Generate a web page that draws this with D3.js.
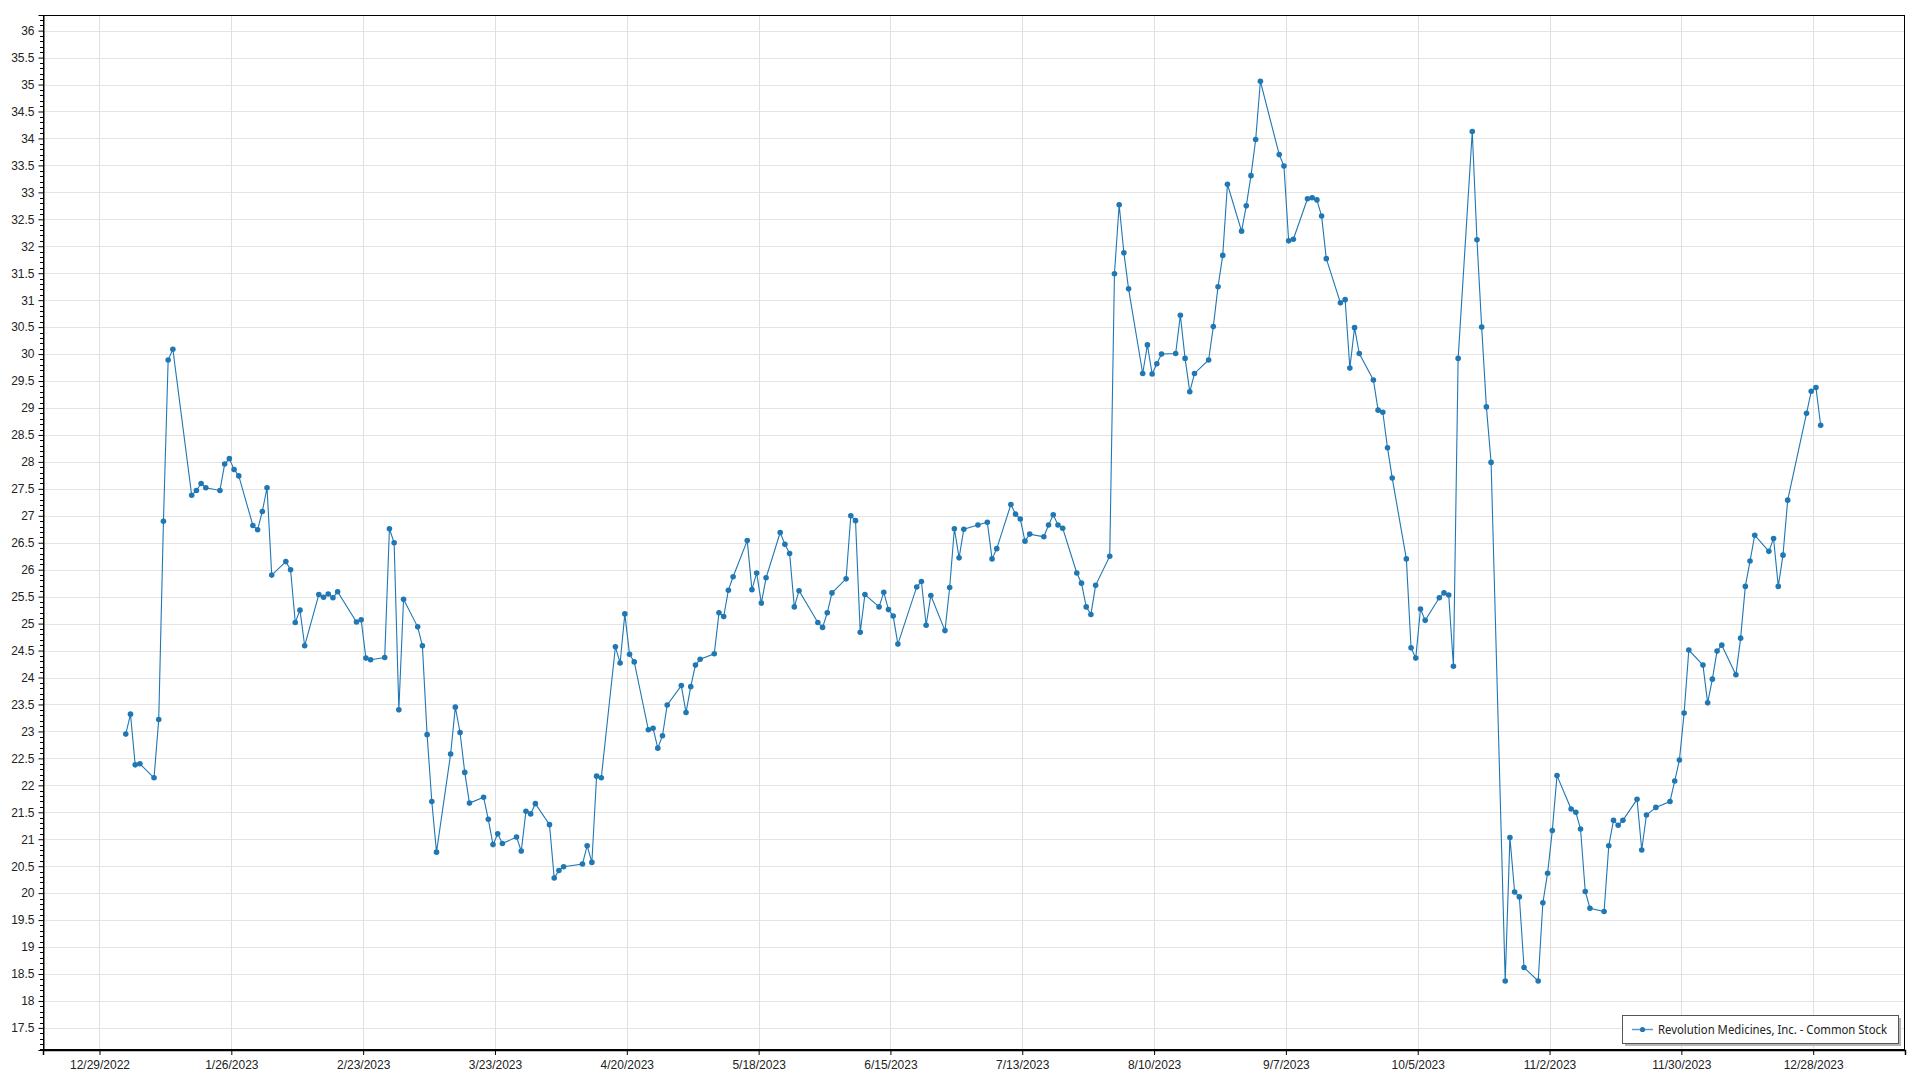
<!DOCTYPE html>
<html><head><meta charset="utf-8">
<script src="https://cdn.jsdelivr.net/npm/d3@7"></script>
<style>
html,body{margin:0;padding:0;background:#fff;}
svg{display:block;font-family:"Segoe UI","Noto Sans","Open Sans",sans-serif;}
</style></head><body>
<svg id="chart" width="1920" height="1080"></svg>
<script>
const seriesName = "Revolution Medicines, Inc. - Common Stock";

const tradingDays = [
"2023-01-03","2023-01-04","2023-01-05","2023-01-06","2023-01-09","2023-01-10","2023-01-11","2023-01-12","2023-01-13",
"2023-01-17","2023-01-18","2023-01-19","2023-01-20","2023-01-23","2023-01-24","2023-01-25","2023-01-26","2023-01-27",
"2023-01-30","2023-01-31","2023-02-01","2023-02-02","2023-02-03","2023-02-06","2023-02-07","2023-02-08","2023-02-09",
"2023-02-10","2023-02-13","2023-02-14","2023-02-15","2023-02-16","2023-02-17","2023-02-21","2023-02-22","2023-02-23",
"2023-02-24","2023-02-27","2023-02-28","2023-03-01","2023-03-02","2023-03-03","2023-03-06","2023-03-07","2023-03-08",
"2023-03-09","2023-03-10","2023-03-13","2023-03-14","2023-03-15","2023-03-16","2023-03-17","2023-03-20","2023-03-21",
"2023-03-22","2023-03-23","2023-03-24","2023-03-27","2023-03-28","2023-03-29","2023-03-30","2023-03-31","2023-04-03",
"2023-04-04","2023-04-05","2023-04-06","2023-04-10","2023-04-11","2023-04-12","2023-04-13","2023-04-14","2023-04-17",
"2023-04-18","2023-04-19","2023-04-20","2023-04-21","2023-04-24","2023-04-25","2023-04-26","2023-04-27","2023-04-28",
"2023-05-01","2023-05-02","2023-05-03","2023-05-04","2023-05-05","2023-05-08","2023-05-09","2023-05-10","2023-05-11",
"2023-05-12","2023-05-15","2023-05-16","2023-05-17","2023-05-18","2023-05-19","2023-05-22","2023-05-23","2023-05-24",
"2023-05-25","2023-05-26","2023-05-30","2023-05-31","2023-06-01","2023-06-02","2023-06-05","2023-06-06","2023-06-07",
"2023-06-08","2023-06-09","2023-06-12","2023-06-13","2023-06-14","2023-06-15","2023-06-16","2023-06-20","2023-06-21",
"2023-06-22","2023-06-23","2023-06-26","2023-06-27","2023-06-28","2023-06-29","2023-06-30","2023-07-03","2023-07-05",
"2023-07-06","2023-07-07","2023-07-10","2023-07-11","2023-07-12","2023-07-13","2023-07-14","2023-07-17","2023-07-18",
"2023-07-19","2023-07-20","2023-07-21","2023-07-24","2023-07-25","2023-07-26","2023-07-27","2023-07-28","2023-07-31",
"2023-08-01","2023-08-02","2023-08-03","2023-08-04","2023-08-07","2023-08-08","2023-08-09","2023-08-10","2023-08-11",
"2023-08-14","2023-08-15","2023-08-16","2023-08-17","2023-08-18","2023-08-21","2023-08-22","2023-08-23","2023-08-24",
"2023-08-25","2023-08-28","2023-08-29","2023-08-30","2023-08-31","2023-09-01","2023-09-05","2023-09-06","2023-09-07",
"2023-09-08","2023-09-11","2023-09-12","2023-09-13","2023-09-14","2023-09-15","2023-09-18","2023-09-19","2023-09-20",
"2023-09-21","2023-09-22","2023-09-25","2023-09-26","2023-09-27","2023-09-28","2023-09-29","2023-10-02","2023-10-03",
"2023-10-04","2023-10-05","2023-10-06","2023-10-09","2023-10-10","2023-10-11","2023-10-12","2023-10-13","2023-10-16",
"2023-10-17","2023-10-18","2023-10-19","2023-10-20","2023-10-23","2023-10-24","2023-10-25","2023-10-26","2023-10-27",
"2023-10-30","2023-10-31","2023-11-01","2023-11-02","2023-11-03","2023-11-06","2023-11-07","2023-11-08","2023-11-09",
"2023-11-10","2023-11-13","2023-11-14","2023-11-15","2023-11-16","2023-11-17","2023-11-20","2023-11-21","2023-11-22",
"2023-11-24","2023-11-27","2023-11-28","2023-11-29","2023-11-30","2023-12-01","2023-12-04","2023-12-05","2023-12-06",
"2023-12-07","2023-12-08","2023-12-11","2023-12-12","2023-12-13","2023-12-14","2023-12-15","2023-12-18","2023-12-19",
"2023-12-20","2023-12-21","2023-12-22","2023-12-26","2023-12-27","2023-12-28","2023-12-29"
];

const closingPrices = [
22.95,23.32,22.38,22.40,22.14,23.22,26.90,29.89,30.09,
27.38,27.47,27.60,27.52,27.47,27.96,28.06,27.86,27.74,
26.82,26.74,27.08,27.52,25.90,26.15,26.00,25.02,25.25,
24.59,25.54,25.49,25.55,25.48,25.59,25.03,25.07,24.36,
24.33,24.37,26.76,26.50,23.40,25.45,24.94,24.59,22.94,
21.70,20.76,22.58,23.45,22.98,22.24,21.67,21.78,21.37,
20.90,21.10,20.92,21.04,20.78,21.52,21.47,21.66,21.27,
20.28,20.42,20.49,20.54,20.88,20.57,22.17,22.14,24.57,
24.27,25.18,24.43,24.29,23.03,23.06,22.69,22.92,23.49,
23.85,23.35,23.83,24.23,24.34,24.44,25.20,25.13,25.62,
25.87,26.54,25.63,25.94,25.38,25.85,26.69,26.47,26.30,
25.31,25.61,25.02,24.93,25.20,25.57,25.83,27.00,26.91,
24.84,25.54,25.31,25.58,25.26,25.14,24.62,25.68,25.78,
24.97,25.52,24.87,25.67,26.76,26.22,26.75,26.83,26.88,
26.20,26.39,27.21,27.03,26.94,26.53,26.66,26.61,26.83,
27.02,26.83,26.77,25.94,25.75,25.31,25.17,25.71,26.25,
31.49,32.77,31.88,31.21,29.64,30.17,29.63,29.82,30.00,
30.01,30.72,29.92,29.30,29.64,29.89,30.51,31.25,31.83,
33.15,32.28,32.75,33.31,33.98,35.06,33.70,33.49,32.10,
32.13,32.88,32.90,32.86,32.56,31.77,30.95,31.01,29.74,
30.49,30.01,29.52,28.96,28.92,28.26,27.70,26.20,24.55,
24.36,25.27,25.06,25.48,25.57,25.53,24.21,29.92,34.13,
32.12,30.50,29.02,27.99,18.37,21.03,20.02,19.93,18.62,
18.37,19.82,20.37,21.16,22.18,21.56,21.50,21.19,20.03,
19.72,19.66,20.88,21.35,21.26,21.35,21.74,20.80,21.45,
21.59,21.70,22.08,22.47,23.34,24.51,24.23,23.53,23.97,
24.49,24.60,24.05,24.73,25.69,26.16,26.64,26.34,26.58,
25.69,26.27,27.29,28.90,29.31,29.38,28.68
];

const xTickLabels = ["12/29/2022","1/26/2023","2/23/2023","3/23/2023","4/20/2023","5/18/2023","6/15/2023",
  "7/13/2023","8/10/2023","9/7/2023","10/5/2023","11/2/2023","11/30/2023","12/28/2023"];
const yTickValues = [17.5,18,18.5,19,19.5,20,20.5,21,21.5,22,22.5,23,23.5,24,24.5,25,25.5,26,26.5,27,27.5,
  28,28.5,29,29.5,30,30.5,31,31.5,32,32.5,33,33.5,34,34.5,35,35.5,36];

const parseDay = d3.timeParse("%Y-%m-%d");
const parseTick = d3.timeParse("%m/%d/%Y");
const data = tradingDays.map((d, i) => ({date: d3.timeHour.offset(parseDay(d), 14), value: closingPrices[i]}));
const xTicks = xTickLabels.map(parseTick);

const plotL = 43, plotR = 1905, plotT = 15, plotB = 1050;
const x = d3.scaleTime().domain([new Date(2022, 11, 17), new Date(2024, 0, 16, 12)]).range([plotL, plotR]);
const y = d3.scaleLinear().domain([17.09, 36.29]).range([plotB, plotT]);

const svg = d3.select("#chart");
const ink = "#1f77b4";

// gridlines
svg.append("g").selectAll("line").data(yTickValues).join("line")
  .attr("x1", plotL).attr("x2", plotR)
  .attr("y1", d => Math.round(y(d)) + 0.5).attr("y2", d => Math.round(y(d)) + 0.5)
  .attr("stroke", "#e4e4e4").attr("stroke-width", 1);
svg.append("g").selectAll("line").data(xTicks).join("line")
  .attr("x1", d => Math.round(x(d)) + 0.5).attr("x2", d => Math.round(x(d)) + 0.5)
  .attr("y1", plotT).attr("y2", plotB)
  .attr("stroke", "#e0e0e0").attr("stroke-width", 1);

// frame
svg.append("rect").attr("x", plotL + 0.5).attr("y", plotT + 0.5)
  .attr("width", plotR - plotL - 1).attr("height", plotB - plotT - 1)
  .attr("fill", "none").attr("stroke", "#000").attr("stroke-width", 1);

// Y axis
const yAxis = d3.axisLeft(y).tickValues(yTickValues).tickSize(5).tickPadding(4)
  .tickFormat(d3.format("~g"));
const gy = svg.append("g").attr("transform", `translate(${plotL + 0.5},0)`).call(yAxis);
gy.select(".domain").attr("stroke", "#000");
gy.selectAll("text").attr("font-size", 12).attr("fill", "#222").attr("font-family", null);

const minorY = d3.range(171, 363).map(i => i / 10).filter(v => !yTickValues.some(t => Math.abs(t - v) < 1e-6));
svg.append("g").selectAll("line").data(minorY).join("line")
  .attr("x1", plotL - 3).attr("x2", plotL)
  .attr("y1", d => Math.round(y(d)) + 0.5).attr("y2", d => Math.round(y(d)) + 0.5)
  .attr("stroke", "#000");

// X axis
const xAxis = d3.axisBottom(x).tickValues(xTicks).tickSize(5).tickPadding(5)
  .tickFormat(d3.timeFormat("%-m/%-d/%Y"));
const gx = svg.append("g").attr("transform", `translate(0,${plotB})`).call(xAxis);
gx.select(".domain").attr("stroke", "#000").attr("stroke-width", 1.5);
gx.selectAll("text").attr("font-size", 12).attr("fill", "#222").attr("font-family", null);

// series
const line = d3.line().x(d => x(d.date)).y(d => y(d.value));
svg.append("path").datum(data).attr("d", line)
  .attr("fill", "none").attr("stroke", ink).attr("stroke-width", 1.1);
svg.append("g").selectAll("circle").data(data).join("circle")
  .attr("cx", d => x(d.date)).attr("cy", d => y(d.value)).attr("r", 2.8).attr("fill", ink);

// legend
const lg = svg.append("g").attr("transform", "translate(1622,1015)");
lg.append("rect").attr("x", 3).attr("y", 3).attr("width", 276).attr("height", 28).attr("fill", "#b5b5b5");
lg.append("rect").attr("x", 0.5).attr("y", 0.5).attr("width", 276).attr("height", 28)
  .attr("fill", "#fff").attr("stroke", "#555").attr("stroke-width", 1);
lg.append("line").attr("x1", 10).attr("x2", 31).attr("y1", 14.5).attr("y2", 14.5)
  .attr("stroke", "#5a9bd0").attr("stroke-width", 1.5);
lg.append("circle").attr("cx", 20.5).attr("cy", 14.5).attr("r", 2.6).attr("fill", ink);
lg.append("text").attr("x", 36).attr("y", 14.5).attr("dy", "0.35em")
  .attr("font-size", 12).attr("fill", "#222")
  .attr("textLength", 229).attr("lengthAdjust", "spacingAndGlyphs").text(seriesName);
</script>
</body></html>
